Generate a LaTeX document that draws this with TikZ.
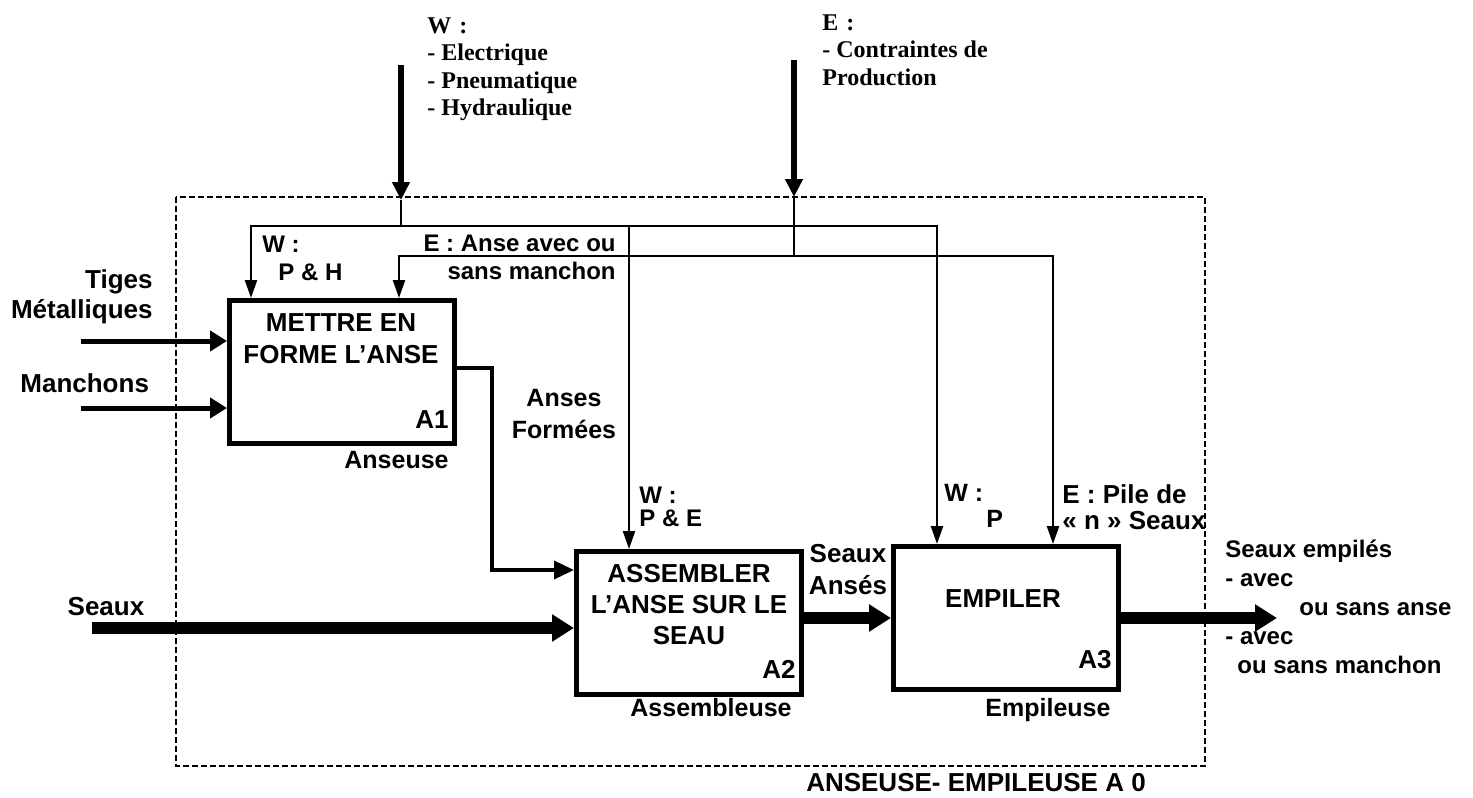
\documentclass[tikz,border=0pt]{standalone}
\usepackage{fontspec}
\setmainfont{Liberation Sans}
\newfontfamily\tnr{Liberation Serif}
\usetikzlibrary{arrows.meta}
\tikzset{
  boite/.style={draw,line width=2.5pt,minimum width=112.5pt,minimum height=71.5pt,inner sep=0pt},
  lab/.style={font=\bfseries\fontsize{12.5}{15}\selectfont,inner sep=0pt},
  petit/.style={font=\bfseries\fontsize{12}{14}\selectfont,inner sep=0pt},
  haut/.style={font=\tnr\bfseries\fontsize{12}{13.75}\selectfont,inner sep=0pt,align=left},
  titre/.style={font=\bfseries\fontsize{13}{16}\selectfont,inner sep=0pt,align=center},
  fil/.style={line width=1.2pt},
  ctl/.style={fil,-{Triangle[length=9pt,width=6pt]}},
  sortie/.style={line width=1.8pt,-{Triangle[length=10pt,width=9pt]}},
  gros/.style={line width=2.8pt,-{Triangle[length=9pt,width=8.5pt]}},
  entree/.style={line width=2.5pt,-{Triangle[length=8.5pt,width=10pt]}},
  flux/.style={line width=6pt,-{Triangle[length=11pt,width=13pt]}},
  cadre/.style={line width=0.6pt,dash pattern=on 3pt off 1.5pt}
}
\begin{document}
\begin{tikzpicture}[x=0.5pt,y=-0.5pt]
  \useasboundingbox (0,0) rectangle (1473,798);
  \draw[cadre] (176,197) rectangle (1205,766);
  % boites
  \node[boite] (a1) at (342,372) {};
  \node[boite] (a2) at (689,623) {};
  \node[boite] (a3) at (1006,618) {};
  \node[titre,anchor=north] (t1) at (341,313) {METTRE EN\\FORME L’ANSE};
  \node[titre,anchor=north,font=\bfseries\fontsize{13}{15.5}\selectfont] (t2) at (689,564) {ASSEMBLER\\L’ANSE SUR LE\\SEAU};
  \node[titre,anchor=north] (t3) at (1003,589) {EMPILER};
  \node[titre,anchor=south east] (n1) at ([shift={(-8,-17)}]a1.south east) {A1};
  \node[titre,anchor=south east] (n2) at ([shift={(-8,-18)}]a2.south east) {A2};
  \node[titre,anchor=south east] (n3) at ([shift={(-9,-23)}]a3.south east) {A3};
  \node[lab,anchor=north east] (m1) at ([shift={(-8,5)}]a1.south east) {Anseuse};
  \node[lab,anchor=north] (m2) at (711,698) {Assembleuse};
  \node[lab,anchor=north] (m3) at (1048,698) {Empileuse};
  % supports et contraintes
  \node[haut,anchor=north west] (wtxt) at (427,17) {W\,\,:\\- Electrique\\- Pneumatique\\- Hydraulique};
  \node[haut,anchor=north west] (etxt) at (822,14) {E\,\,:\\- Contraintes de\\Production};
  \coordinate (w0) at (401,65);
  \coordinate (w1) at (401,200);
  \coordinate (wj) at (401,226);
  \coordinate (e0) at (794,60);
  \coordinate (e1) at (794,197);
  \coordinate (ej) at (794,256);
  \draw[gros] (w0) -- (w1);
  \draw[fil] (w1) -- (wj);
  \draw[gros] (e0) -- (e1);
  \draw[fil] (e1) -- (ej);
  \draw[ctl] (wj) -| ([xshift=12pt]a1.north west);
  \draw[ctl] (wj) -| ([xshift=27.5pt]a2.north west);
  \draw[ctl] (wj) -| ([xshift=23pt]a3.north west);
  \draw[ctl] (ej) -| ([xshift=86pt]a1.north west);
  \draw[ctl] (ej) -| ([xshift=81pt]a3.north west);
  \node[petit,anchor=north west,align=left] (wa1) at (262,236) {W :\\\hspace*{8pt}P \& H};
  \node[petit,anchor=north east,align=right] (ea1) at (616,235) {E : Anse avec ou\\sans manchon};
  \node[petit,anchor=north west,align=left,font=\bfseries\fontsize{12}{11.5}\selectfont] (wa2) at (639,487) {W :\\P \& E};
  \node[lab,anchor=north west,align=left,font=\bfseries\fontsize{12.5}{13}\selectfont] (wa3) at (944,484) {W :\\\hspace*{21pt}P};
  \node[lab,anchor=north west,align=left,font=\bfseries\fontsize{13}{13}\selectfont] (ea3) at (1062,484) {E : Pile de\\« n » Seaux};
  % flux
  \node[lab,anchor=north east,align=right,font=\bfseries\fontsize{13}{15}\selectfont] (tiges) at (153,269) {Tiges\\Métalliques};
  \node[lab,anchor=west,font=\bfseries\fontsize{13}{15}\selectfont] (manch) at (20,383) {Manchons};
  \node[lab,font=\bfseries\fontsize{13}{15}\selectfont] (seaux) at (106,607) {Seaux};
  \coordinate (tg) at (81,341);
  \coordinate (mc) at (81,408);
  \coordinate (sx) at (92,628);
  \coordinate (coude) at (492,570);
  \coordinate (fin) at (1277,618);
  \draw[entree] (tg) -- (tg -| a1.west);
  \draw[entree] (mc) -- (mc -| a1.west);
  \draw[flux] (sx) -- (sx -| a2.west);
  \draw[sortie] ([yshift=2pt]a1.east) -| (coude) -- (coude -| a2.west);
  \draw[flux] (a2.east |- a3.west) -- (a3.west);
  \draw[flux] (a3.east) -- (fin);
  \node[lab,anchor=north,align=center,font=\bfseries\fontsize{12.5}{16}\selectfont] (af) at (564,389) {Anses\\Formées};
  \node[lab,anchor=north,align=center,font=\bfseries\fontsize{13}{16}\selectfont] (sa) at (848,544) {Seaux\\Ansés};
  \node[lab,anchor=north west,align=left,font=\bfseries\fontsize{12}{14.5}\selectfont] (se) at (1225,539) {Seaux empilés\\- avec\\\hspace*{37pt}ou sans anse\\- avec\\\hspace*{6pt}ou sans manchon};
  \node[titre] (a0) at (976,783) {ANSEUSE- EMPILEUSE A 0};
\end{tikzpicture}
\end{document}
